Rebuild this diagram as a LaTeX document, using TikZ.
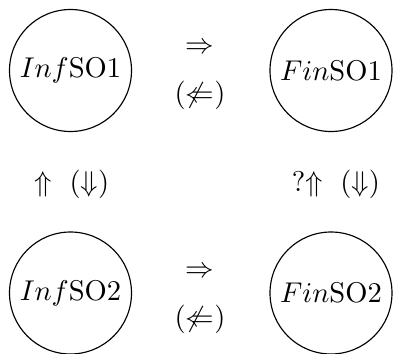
\documentclass[tikz,border=0pt]{standalone}
\usepackage{amsmath,amssymb}
\usepackage{tikz}
\usetikzlibrary{positioning}

\begin{document}
\begin{tikzpicture}[x=0.35pt,y=-0.35pt,
  prop/.style={circle,draw,inner sep=0pt,minimum size=42.7pt},
  rel/.style={inner sep=1pt}]
  \useasboundingbox (0,0) rectangle (393,354);
  \node[prop] (I1) at (70.5,70.5) {$Inf$SO1}; \node[prop] (F1) at (331,70.5) {$Fin$SO1};
  \node[prop] (I2) at (70.5,293) {$Inf$SO2}; \node[prop] (F2) at (331,293) {$Fin$SO2};
  \node[rel] (t1) at (200,48) {$\Rightarrow$};
  \node[rel] (t2) at (200,95) {$(\not\Leftarrow)$};
  \node[rel] (b1) at (200,272) {$\Rightarrow$};
  \node[rel] (b2) at (200,319) {$(\not\Leftarrow)$};
  \node[rel] (l) at (72,184) {$\Uparrow~(\Downarrow)$};
  \node[rel] (r) at (336,184) {?$\Uparrow~(\Downarrow)$};
\end{tikzpicture}
\end{document}
